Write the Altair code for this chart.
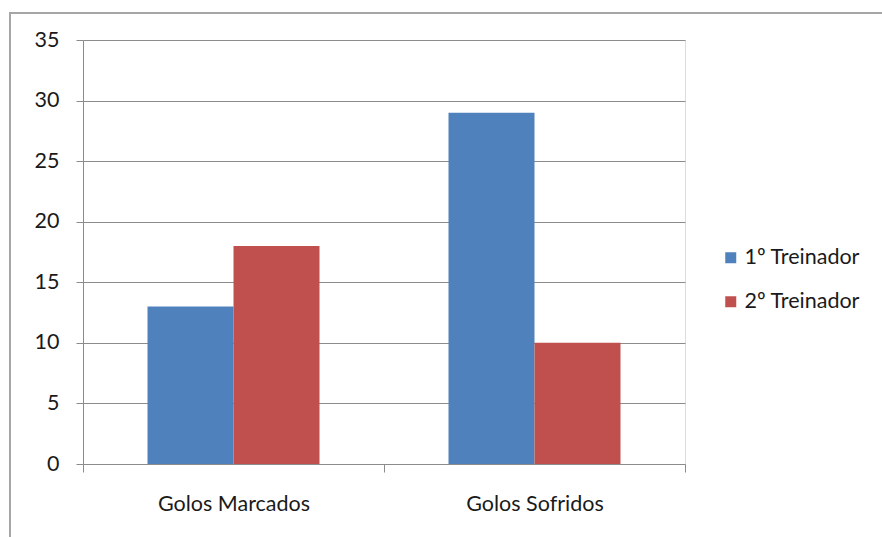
import altair as alt
import pandas as pd

# Goals scored and conceded under each coach
categories = ["Golos Marcados", "Golos Sofridos"]
series = ["1º Treinador", "2º Treinador"]
treinador_1 = [13, 29]
treinador_2 = [18, 10]
colors = ["#4F81BD", "#C0504D"]

rows = []
for s, vals in zip(series, [treinador_1, treinador_2]):
    for c, v in zip(categories, vals):
        rows.append({"categoria": c, "treinador": s, "golos": v})
df = pd.DataFrame(rows)

FONT = "Lato"
FS = 21.5
TXT = "#1a1a1a"
GRID = "#8C8C8C"
W, H = 602, 424

bars = alt.Chart(df).mark_bar().encode(
    x=alt.X(
        "categoria:N",
        sort=categories,
        scale=alt.Scale(paddingInner=0, paddingOuter=0),
        axis=alt.Axis(
            title=None, labelAngle=0, tickBand="extent", tickSize=8,
            domainColor=GRID, tickColor=GRID, labelPadding=21,
            labelFont=FONT, labelFontSize=FS, labelColor=TXT,
        ),
    ),
    xOffset=alt.XOffset(
        "treinador:N", sort=series,
        scale=alt.Scale(paddingInner=0, paddingOuter=0.75),
    ),
    y=alt.Y(
        "golos:Q",
        scale=alt.Scale(domain=[0, 35], nice=False),
        axis=alt.Axis(
            title=None, values=list(range(0, 36, 5)), tickSize=7,
            domainColor=GRID, tickColor=GRID, gridColor=GRID,
            labelPadding=17, labelFont=FONT, labelFontSize=FS,
            labelColor=TXT,
        ),
    ),
    color=alt.Color(
        "treinador:N", sort=series,
        scale=alt.Scale(domain=series, range=colors),
        legend=alt.Legend(
            title=None, orient="none", legendX=637, legendY=207,
            symbolType="square", symbolSize=121, symbolStrokeWidth=0,
            rowPadding=21, labelFont=FONT, labelFontSize=FS,
            labelColor=TXT, labelOffset=3,
        ),
    ),
)

# Outer chart frame
frame = alt.Chart(pd.DataFrame({"k": [0]})).mark_rect(
    fill=None, stroke="#A6A6A6", strokeWidth=2, clip=False
).encode(
    x=alt.value(-73), x2=alt.value(900),
    y=alt.value(-27), y2=alt.value(600),
)

chart = alt.layer(bars, frame).properties(
    width=W, height=H,
    autosize=alt.AutoSizeParams(type="none"),
    padding={"left": 83, "top": 40, "right": 197, "bottom": 73},
).configure_view(stroke=None).configure(background="white")

chart.save("out.html", embed_options={"renderer": "svg", "actions": False})
